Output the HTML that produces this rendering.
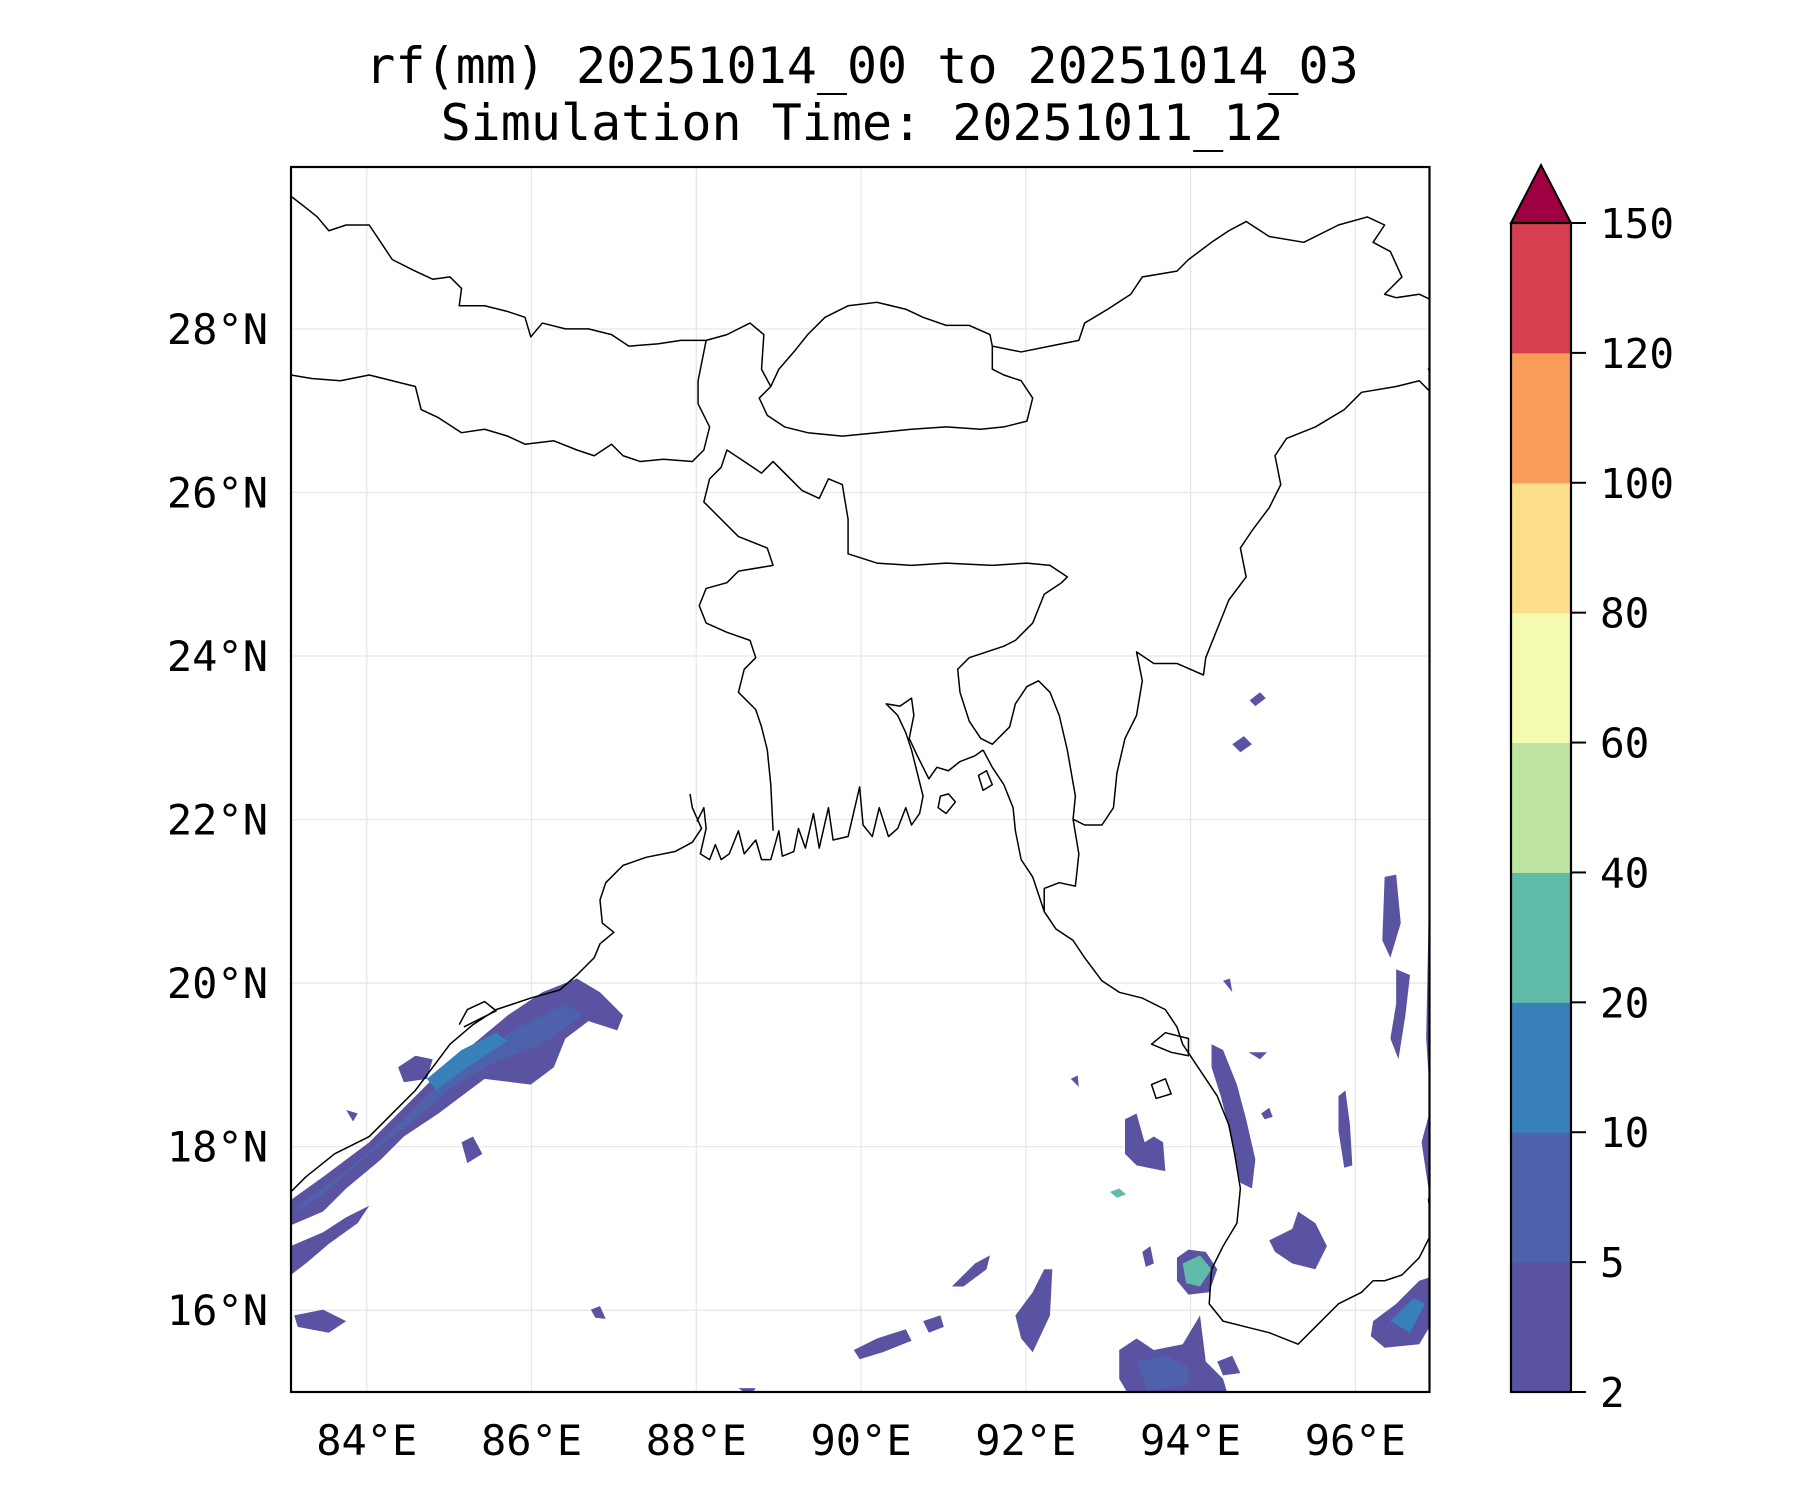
<!DOCTYPE html>
<html><head><meta charset="utf-8">
<style>
html,body{margin:0;padding:0;background:#fff;}
svg{display:block;}
text{font-family:"DejaVu Sans Mono","Liberation Mono",monospace;fill:#000;}
</style></head>
<body>
<svg id="fig" width="1800" height="1500" viewBox="0 0 1800 1500" xmlns="http://www.w3.org/2000/svg">
  <text x="862" y="83" font-size="50" text-anchor="middle">rf(mm) 20251014_00 to 20251014_03</text>
  <text x="862" y="140" font-size="50" text-anchor="middle">Simulation Time: 20251011_12</text>
  <g id="grid"></g>
  <clipPath id="clip"><rect x="291" y="167" width="1138.5" height="1225"/></clipPath>
  <g clip-path="url(#clip)">
   <g transform="scale(1.153846)">
    <g stroke="none">
      <path fill="#5a53a2" d="M252,1040 L280,1020 L320,990 L350,960 L380,930 L410,905 L440,880 L470,860 L500,848 L520,860 L540,880 L535,893 L510,885 L490,900 L480,925 L460,940 L420,935 L400,950 L380,965 L350,985 L330,1005 L300,1030 L280,1050 L252,1062 Z"/>
      <path fill="#4d62ab" d="M258,1045 L300,1015 L340,980 L375,945 L410,915 L450,890 L490,870 L505,880 L470,905 L430,920 L395,940 L360,970 L320,1000 L280,1035 L258,1050 Z"/>
      <path fill="#3880b9" d="M370,935 L400,910 L430,895 L440,902 L405,925 L378,945 Z"/>
      <path fill="#5a53a2" d="M252,1080 L280,1068 L300,1055 L320,1045 L310,1060 L285,1078 L265,1095 L252,1105 Z"/>
      <path fill="#5a53a2" d="M345,925 L360,915 L375,918 L370,935 L350,938 Z"/>
      <path fill="#5a53a2" d="M400,990 L410,985 L418,1000 L405,1008 Z"/>
      <path fill="#5a53a2" d="M255,1140 L280,1135 L300,1145 L285,1155 L258,1150 Z"/>
      <path fill="#5a53a2" d="M300,962 L310,965 L306,972 Z"/>
      <path fill="#5a53a2" d="M825,1115 L845,1095 L858,1088 L855,1100 L835,1115 Z"/>
      <path fill="#5a53a2" d="M740,1170 L760,1160 L785,1152 L790,1162 L765,1172 L745,1178 Z"/>
      <path fill="#5a53a2" d="M880,1140 L895,1120 L905,1100 L912,1100 L910,1140 L895,1172 L885,1160 Z"/>
      <path fill="#5a53a2" d="M800,1145 L815,1140 L818,1150 L805,1155 Z"/>
      <path fill="#5a53a2" d="M1020,1090 L1030,1083 L1045,1085 L1055,1100 L1048,1120 L1030,1122 L1020,1110 Z"/>
      <path fill="#60bba9" d="M1025,1095 L1040,1088 L1050,1100 L1040,1115 L1028,1112 Z"/>
      <path fill="#5a53a2" d="M970,1170 L985,1160 L1000,1170 L1025,1165 L1040,1140 L1045,1180 L1060,1195 L1065,1212 L980,1212 L970,1195 Z"/>
      <path fill="#4d62ab" d="M985,1180 L1010,1175 L1030,1185 L1030,1200 L995,1205 Z"/>
      <path fill="#5a53a2" d="M1190,1145 L1210,1130 L1230,1110 L1245,1105 L1245,1140 L1230,1165 L1200,1168 L1188,1158 Z"/>
      <path fill="#3880b9" d="M1205,1145 L1225,1125 L1235,1130 L1222,1155 Z"/>
      <path fill="#5a53a2" d="M1100,1075 L1120,1065 L1125,1050 L1140,1060 L1150,1080 L1140,1100 L1120,1095 L1105,1085 Z"/>
      <path fill="#5a53a2" d="M1050,905 L1060,910 L1072,940 L1080,970 L1088,1005 L1085,1030 L1075,1025 L1068,990 L1058,950 L1050,925 Z"/>
      <path fill="#5a53a2" d="M1160,950 L1166,945 L1170,975 L1172,1010 L1165,1012 L1160,980 Z"/>
      <path fill="#5a53a2" d="M1200,760 L1210,758 L1214,800 L1205,830 L1198,815 Z"/>
      <path fill="#5a53a2" d="M1210,840 L1222,845 L1218,880 L1212,918 L1205,900 L1210,870 Z"/>
      <path fill="#5a53a2" d="M1238,800 L1245,790 L1245,1080 L1238,1030 L1232,990 L1240,960 L1236,900 Z"/>
      <path fill="#5a53a2" d="M975,970 L985,965 L992,990 L1000,985 L1008,990 L1010,1015 L995,1012 L985,1010 L975,1000 Z"/>
      <path fill="#60bba9" d="M962,1033 L970,1030 L976,1035 L968,1038 Z"/>
      <path fill="#5a53a2" d="M1068,645 L1078,638 L1085,645 L1075,652 Z"/>
      <path fill="#5a53a2" d="M1083,607 L1092,600 L1097,605 L1088,612 Z"/>
      <path fill="#5a53a2" d="M1082,912 L1098,912 L1092,918 Z"/>
      <path fill="#5a53a2" d="M1060,850 L1066,848 L1068,860 Z"/>
      <path fill="#5a53a2" d="M1093,965 L1100,960 L1103,968 L1096,970 Z"/>
      <path fill="#5a53a2" d="M928,935 L934,932 L935,942 Z"/>
      <path fill="#5a53a2" d="M990,1085 L997,1080 L1000,1095 L993,1098 Z"/>
      <path fill="#5a53a2" d="M1055,1180 L1068,1175 L1075,1190 L1060,1192 Z"/>
      <path fill="#5a53a2" d="M512,1135 L520,1132 L525,1143 L516,1142 Z"/>
      <path fill="#5a53a2" d="M640,1203 L655,1203 L650,1210 Z M665,1206 L690,1206 L680,1212 Z"/>
    </g>
    <g fill="none" stroke="#000" stroke-width="1.3" stroke-linejoin="round">
      <path d="M252,1033 L265,1020 L290,1000 L320,985 L340,965 L360,945 L375,925 L390,905 L410,888 L430,875 L460,865 L485,858 L500,845 L515,830 L520,818 L532,808 L522,800 L520,780 L525,765 L540,750 L560,743 L585,738 L600,730 L608,718 L600,700 L598,688"/>
      <path d="M398,888 L405,875 L420,868 L430,876 L418,882 L402,890"/>
      <path d="M604,712 L610,700 L612,718 L607,740 L615,745 L620,732 L625,745 L632,740 L640,720 L645,740 L655,728 L660,745 L668,745 L675,720 L678,742 L688,738 L692,718 L698,735 L705,705 L710,735 L718,700 L722,728 L735,725 L745,682 L748,715 L756,725 L762,700 L770,725 L778,718 L785,700 L790,715 L797,705 L800,690 L795,670 L790,650 L785,635 L778,620 L768,610 L780,612 L790,605 L792,620 L788,640 L795,655 L805,675 L812,665 L822,668 L832,660 L845,655 L852,650"/>
      <path d="M815,690 L822,688 L828,695 L820,705 L813,700 Z M848,672 L855,668 L860,680 L852,685 Z"/>
      <path d="M852,650 L860,665 L870,680 L878,700 L880,720 L885,745 L895,760 L905,790 L915,805 L930,815 L940,830 L955,850 L970,860 L990,865 L1010,875 L1020,890 L1025,905 L1035,920 L1045,935 L1055,950 L1065,975 L1070,1000 L1075,1030 L1072,1060 L1060,1080 L1050,1100 L1048,1130 L1060,1145 L1080,1150 L1100,1155 L1125,1165 L1140,1150 L1160,1130 L1180,1120 L1190,1110 L1200,1110 L1215,1105 L1230,1090 L1240,1070 L1245,1050"/>
      <path d="M998,940 L1010,935 L1015,948 L1002,952 Z M998,905 L1010,895 L1030,900 L1030,915 L1015,912 Z"/>
      <path d="M1245,1020 L1238,1040 L1242,1060"/>
      <path d="M252,325 L270,328 L295,330 L320,325 L340,330 L360,335 L365,355 L380,362 L400,375 L420,372 L440,378 L455,385 L480,382 L500,390 L515,395 L530,385 L540,395 L555,400 L575,398 L600,400 L610,390 L615,370 L605,350 L605,330 L612,295"/>
      <path d="M252,170 L265,180 L275,188 L285,200 L300,195 L320,195 L330,210 L340,225 L360,235 L375,242 L390,240 L400,250 L398,265 L420,265 L440,270 L455,275 L460,292 L470,280 L490,285 L510,285 L530,290 L545,300 L570,298 L590,295 L612,295 L630,290 L650,280 L662,290 L660,320 L668,335"/>
      <path d="M668,335 L658,345 L665,360 L680,370 L700,375 L730,378 L760,375 L790,372 L820,370 L850,372 L870,370 L890,365 L895,345 L885,330 L870,325 L860,320 L860,300 L858,290 L840,282 L820,282 L800,275 L785,268 L760,262 L735,265 L715,275 L700,290 L688,305 L675,320 L668,335"/>
      <path d="M860,300 L885,305 L910,300 L935,295 L940,280 L960,268 L980,255 L990,240 L1020,235 L1030,225 L1050,210 L1065,200 L1080,192 L1100,205 L1130,210 L1160,195 L1185,188 L1200,195 L1190,210 L1205,218 L1215,240 L1200,255 L1210,258 L1230,255 L1245,262"/>
      <path d="M1245,345 L1230,330 L1210,335 L1180,340 L1165,355 L1140,370 L1115,380 L1105,395 L1110,420 L1100,440 L1085,460 L1075,475 L1080,500 L1065,520 L1055,545 L1045,570 L1043,585 L1020,575 L1000,575 L985,565 L990,590 L985,620 L975,640 L968,670 L965,700 L955,715 L940,715 L930,710 L932,690 L925,650 L918,620 L910,600 L900,590 L890,595 L880,610 L875,630 L860,645 L850,640 L840,625 L832,600 L830,580 L840,570 L855,565 L870,560 L880,555 L895,540 L905,515 L920,505 L925,500 L910,490 L890,488 L860,490 L820,488 L790,490 L760,488 L735,480 L735,450 L730,420 L718,415 L710,432 L695,425 L680,410 L670,400 L660,410 L645,400 L630,390 L625,405 L615,415 L610,435 L625,450 L640,465 L665,475 L670,490 L640,495 L630,505 L612,510 L606,525 L612,540 L630,548 L650,555 L655,570 L645,580 L640,600 L655,615 L660,630 L665,650 L668,680 L670,720"/>
      <path d="M930,710 L935,740 L932,768 L918,765 L905,770 L905,790"/>
      <path d="M1245,310 L1238,320 L1245,330"/>
    </g>
   </g>
  </g>
  <rect x="291" y="167" width="1138.5" height="1225" fill="none" stroke="#000" stroke-width="2.2"/>
  <g id="axlabels"></g>
  <g id="cbar"></g>
</svg>
<script>
const latTicks = [16, 18, 20, 22, 24, 26, 28];
const lonTicks = [84, 86, 88, 90, 92, 94, 96];
const cbLevels = [2, 5, 10, 20, 40, 60, 80, 100, 120, 150];
const cbColors = ["#5a53a2", "#4d62ab", "#3880b9", "#60bba9", "#bde4a0", "#f4fbaf", "#fddf8b", "#f99c58", "#d63f50"];
const extendColor = "#9e0142";

const NS = "http://www.w3.org/2000/svg";
const X0 = 291, X1 = 1429.5, Y0 = 167, Y1 = 1392;
const lonMin = 83.08, lonMax = 96.9, latMin = 15.0, latMax = 29.98;
function xLon(l){ return X0 + (l - lonMin) / (lonMax - lonMin) * (X1 - X0); }
function yLat(l){ return Y1 - (l - latMin) / (latMax - latMin) * (Y1 - Y0); }
function mk(tag, attrs, parent){
  const e = document.createElementNS(NS, tag);
  for (const k in attrs) e.setAttribute(k, attrs[k]);
  parent.appendChild(e); return e;
}
const grid = document.getElementById('grid');
const axl = document.getElementById('axlabels');
latTicks.forEach(v => {
  const y = yLat(v);
  const ln = mk('line', {x1: X0, x2: X1, y1: y, y2: y, stroke: '#e6e6e6', 'stroke-width': 1.2}, grid);
  
  
  const t = mk('text', {x: 268, y: y + 15, 'font-size': 42, 'text-anchor': 'end'}, axl);
  t.textContent = v + '°N';
  
  
});
lonTicks.forEach(v => {
  const x = xLon(v);
  const ln = mk('line', {x1: x, x2: x, y1: Y0, y2: Y1, stroke: '#e6e6e6', 'stroke-width': 1.2}, grid);
  
  
  const t = mk('text', {x: x, y: 1455, 'font-size': 42, 'text-anchor': 'middle'}, axl);
  t.textContent = v + '°E';
  
  
});
const cb = document.getElementById('cbar');
const CX0 = 1511, CX1 = 1571, CY0 = 223, CY1 = 1392;
const n = cbColors.length;
const h = (CY1 - CY0) / n;
cbColors.forEach((c, i) => {
  const r = mk('rect', {x: CX0, y: CY1 - (i + 1) * h, width: CX1 - CX0, height: h + 0.5, fill: c}, cb);
  
  
});
const tri = mk('polygon', {points: `${CX0},${CY0} ${(CX0+CX1)/2},${165} ${CX1},${CY0}`, fill: extendColor, stroke: '#000', 'stroke-width': 2}, cb);


const fr = mk('rect', {x: CX0, y: CY0, width: CX1 - CX0, height: CY1 - CY0, fill: 'none', stroke: '#000', 'stroke-width': 2.2}, cb);


cbLevels.forEach((v, i) => {
  const y = CY1 - i * h;
  const tk = mk('line', {x1: CX1, x2: CX1 + 15, y1: y, y2: y, stroke: '#000', 'stroke-width': 2}, cb);
  
  
  const t = mk('text', {x: 1600, y: y + 15, 'font-size': 41}, cb);
  t.textContent = v;
  
  
});
</script>
</body></html>
